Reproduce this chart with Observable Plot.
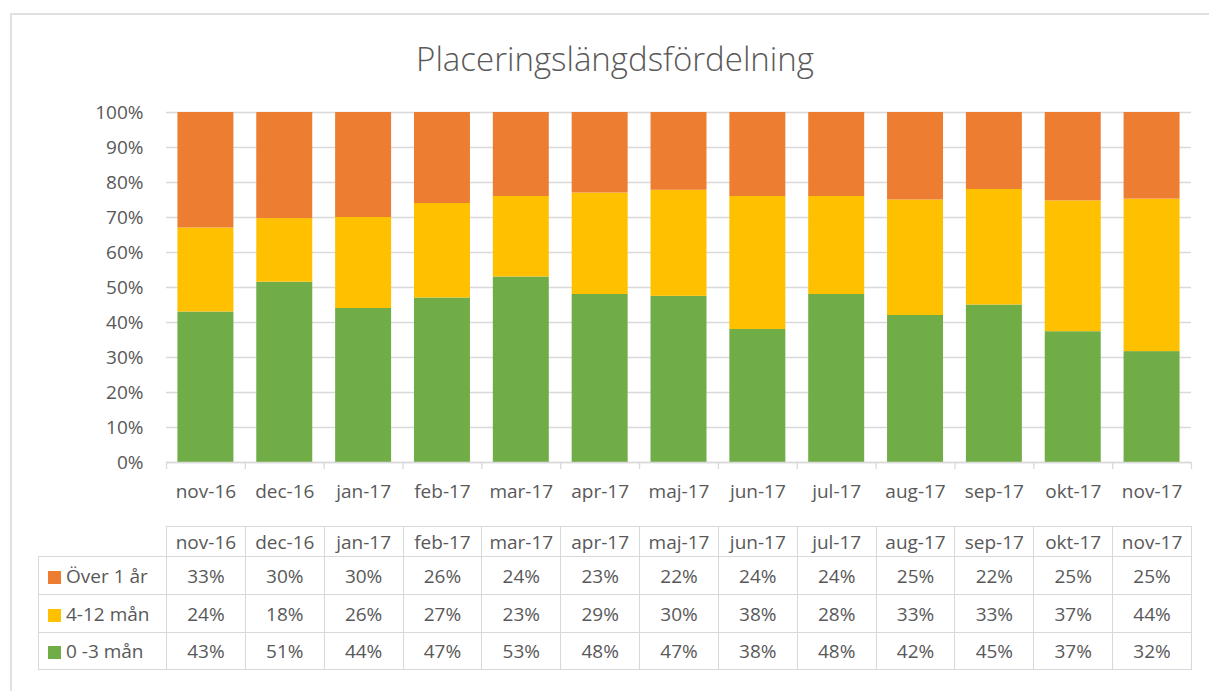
<!DOCTYPE html>
<html>
<head>
<meta charset="utf-8">
<script src="https://cdn.jsdelivr.net/npm/d3@7"></script>
<script src="https://cdn.jsdelivr.net/npm/@observablehq/plot@0.6"></script>
<style>
  html, body { margin: 0; padding: 0; background: #fff; }
  body { width: 1209px; height: 691px; overflow: hidden; position: relative; font-family: "Open Sans", sans-serif; color: #595959; }
  #frame { position: absolute; left: 10px; top: 13px; width: 1300px; height: 800px; border: 2px solid #e0e0e0; box-sizing: border-box; }
  #title { position: absolute; left: 10px; top: 36px; width: 1210px; text-align: center; font-size: 33px; font-weight: 300; line-height: 46px; color: #595959; }
  #chart { position: absolute; left: 0; top: 90px; }
  #tbl { position: absolute; left: 38px; top: 526px; border-collapse: collapse; table-layout: fixed; font-size: 19px; color: #595959; }
  #tbl td { border: 1px solid #d9d9d9; text-align: center; padding: 0; white-space: nowrap; }
  #tbl td.empty { border: none; }
  #tbl td.leg { text-align: left; padding-left: 9px; }
  .sw { display: inline-block; width: 13px; height: 13px; margin-right: 5px; vertical-align: -1px; }
</style>
</head>
<body>
<div id="frame"></div>
<div id="title">Placeringslängdsfördelning</div>
<div id="chart"></div>
<table id="tbl"></table>
<script>
const months = ["nov-16","dec-16","jan-17","feb-17","mar-17","apr-17","maj-17","jun-17","jul-17","aug-17","sep-17","okt-17","nov-17"];
const seriesNames = ["Över 1 år", "4-12 mån", "0 -3 mån"];
const seriesColors = ["#ED7D31", "#FFC000", "#70AD47"];
const over1 = [33,30,30,26,24,23,22,24,24,25,22,25,25];
const m4to12 = [24,18,26,27,23,29,30,38,28,33,33,37,44];
const m0to3 = [43,51,44,47,53,48,47,38,48,42,45,37,32];
const yTicks = [0,0.1,0.2,0.3,0.4,0.5,0.6,0.7,0.8,0.9,1.0];

const valuesBySeries = { "Över 1 år": over1, "4-12 mån": m4to12, "0 -3 mån": m0to3 };
const stackOrder = ["0 -3 mån", "4-12 mån", "Över 1 år"];
const data = months.flatMap((m, i) => stackOrder.map(s => ({ month: m, series: s, value: valuesBySeries[s][i] })));

const W = 1209, H = 420, mL = 166, mR = 18;
const step = (W - mL - mR) / months.length;

const chart = Plot.plot({
  width: W, height: H,
  marginLeft: mL, marginRight: mR, marginTop: 22, marginBottom: 48,
  style: { fontFamily: "Open Sans, sans-serif", fontSize: "19px", color: "#595959", background: "transparent" },
  x: { domain: months, paddingInner: 0.29, paddingOuter: 0.145, round: false, label: null },
  y: { domain: [0, 1], label: null },
  color: { domain: seriesNames, range: seriesColors },
  marks: [
    Plot.gridY(yTicks, { stroke: "#d9d9d9", strokeOpacity: 1, strokeWidth: 1.3 }),
    Plot.barY(data, Plot.stackY({ offset: "normalize", order: stackOrder }, { x: "month", y: "value", fill: "series" })),
    Plot.ruleY([0], { stroke: "#d9d9d9", strokeWidth: 1.3 }),
    Plot.axisY(yTicks, { tickFormat: d3.format(".0%"), tickSize: 0, tickPadding: 23, fill: "#595959" }),
    Plot.axisX({ tickSize: 0, tickPadding: 22, fill: "#595959" }),
    Plot.ruleX(months, { x: d => d, y1: 0, y2: 0, insetTop: 7, dx: -step / 2, stroke: "#d9d9d9", strokeWidth: 1.3 }),
    Plot.ruleX(months.slice(-1), { x: d => d, y1: 0, y2: 0, insetTop: 7, dx: step / 2, stroke: "#d9d9d9", strokeWidth: 1.3 })
  ]
});
document.getElementById("chart").appendChild(chart);

// data table below the chart
const tbl = document.getElementById("tbl");
const cg = document.createElement("colgroup");
const c0 = document.createElement("col"); c0.style.width = "128px"; cg.appendChild(c0);
months.forEach(() => { const c = document.createElement("col"); c.style.width = step + "px"; cg.appendChild(c); });
tbl.appendChild(cg);
const head = document.createElement("tr"); head.style.height = "30px";
const e = document.createElement("td"); e.className = "empty"; head.appendChild(e);
months.forEach(m => { const td = document.createElement("td"); td.textContent = m; head.appendChild(td); });
tbl.appendChild(head);
const rowHeights = [38, 38, 37];
seriesNames.forEach((s, k) => {
  const tr = document.createElement("tr"); tr.style.height = rowHeights[k] + "px";
  const lg = document.createElement("td"); lg.className = "leg";
  const sw = document.createElement("span"); sw.className = "sw"; sw.style.background = seriesColors[k];
  lg.appendChild(sw); lg.appendChild(document.createTextNode(s));
  tr.appendChild(lg);
  valuesBySeries[s].forEach(v => { const td = document.createElement("td"); td.textContent = v + "%"; tr.appendChild(td); });
  tbl.appendChild(tr);
});
</script>
</body>
</html>
